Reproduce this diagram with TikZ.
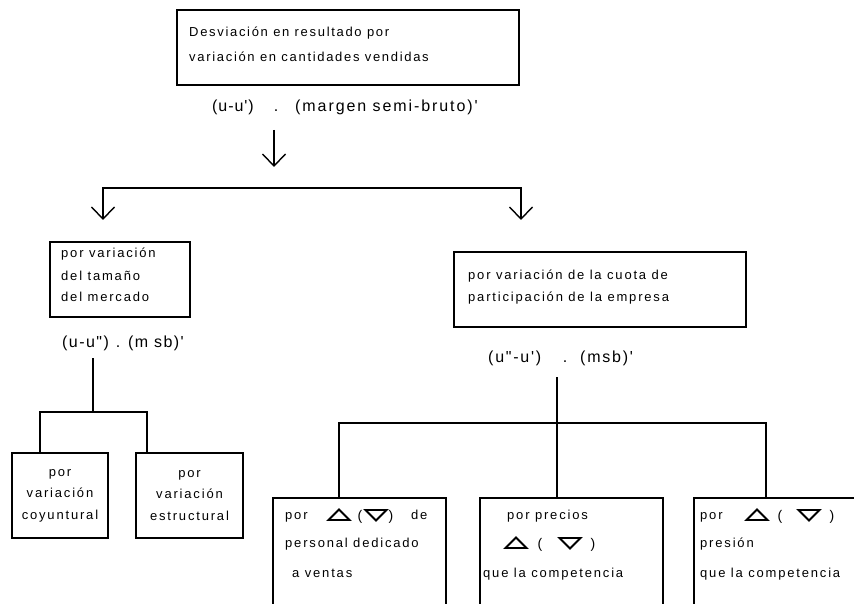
\documentclass[tikz,border=0pt]{standalone}
\usepackage{fontspec}
\usetikzlibrary{arrows.meta}
\newfontfamily\bxfont{Liberation Sans}[LetterSpace=14]
\newfontfamily\topfont{Liberation Sans}[LetterSpace=13]
\newfontfamily\fmA{Liberation Sans}[LetterSpace=6]
\newfontfamily\fmB{Liberation Sans}[LetterSpace=12]
\newfontfamily\fmC{Liberation Sans}[LetterSpace=9]
\newfontfamily\fmD{Liberation Sans}[LetterSpace=11]
\tikzset{
  box/.style={draw, line width=1.4pt, inner sep=0pt},
  conn/.style={line width=1.4pt},
  arr/.style={-{Straight Barb[length=12pt,width=23pt]}},
  arrboth/.style={{Straight Barb[length=12pt,width=23pt]}-{Straight Barb[length=12pt,width=23pt]}},
  lbl/.style={anchor=base west, inner sep=0pt, font=\bxfont\fontsize{13}{15}\selectfont},
  toplbl/.style={anchor=base west, inner sep=0pt, font=\topfont\fontsize{13}{15}\selectfont},
  clbl/.style={anchor=base, inner sep=0pt, font=\bxfont\fontsize{14}{16}\selectfont},
  fml/.style={anchor=base west, inner sep=0pt},
  sbox/.style={box, align=center, font=\bxfont\fontsize{13}{21.5}\selectfont, minimum height=85pt},
  tup/.pic={\draw[line width=1.9pt, line join=miter] (-10.5,5) -- (10.5,5) -- (0,-5.5) -- cycle;},
  tdown/.pic={\draw[line width=1.9pt, line join=miter] (-10.5,-5) -- (10.5,-5) -- (0,5.5) -- cycle;}
}
\begin{document}
\begin{tikzpicture}[x=1pt,y=-1pt]
\useasboundingbox (0,0) rectangle (854,604);
\clip (0,0) rectangle (854,604);

% top box
\node[box, minimum width=342pt, minimum height=75pt] (tbox) at (348,47.5) {};
\node[toplbl] (t1) at (189,37) {Desviación en resultado por};
\node[toplbl] (t2) at (189,62) {variación en cantidades vendidas};
\node[fml, font=\fmA\fontsize{16}{18}\selectfont] (f1a) at (212,112) {(u-u')};
\node[fml, anchor=base, font=\fmA\fontsize{16}{18}\selectfont] (f1b) at (276,112) {.};
\node[fml, font=\fmB\fontsize{16}{18}\selectfont] (f1c) at (295,112) {(margen semi-bruto)'};

\coordinate (a1s) at (274,130);
\coordinate (a1e) at (274,167);
\draw[conn, arr] (a1s) -- (a1e);

\coordinate (b1l) at (103,188);
\coordinate (b1r) at (521,188);
\coordinate (d1l) at (103,220);
\coordinate (d1r) at (521,220);
\draw[conn, arrboth] (d1l) -- (b1l) -- (b1r) -- (d1r);

% left branch
\node[box, minimum width=140pt, minimum height=75pt] (lbox) at (120,279.5) {};
\node[lbl] (l1) at (61,258) {por variación};
\node[lbl] (l2) at (61,280) {del tamaño};
\node[lbl] (l3) at (61,301) {del mercado};
\node[fml, font=\fmC\fontsize{16}{18}\selectfont] (f2a) at (62,347) {(u-u")};
\node[fml, anchor=base, font=\fmC\fontsize{16}{18}\selectfont] (f2b) at (118,347) {.};
\node[fml, font=\fmC\fontsize{16}{18}\selectfont] (f2c) at (128,347) {(m sb)'};

\coordinate (v2) at (93,358);
\coordinate (c2l) at (40,412);
\coordinate (c2r) at (147,412);
\node[sbox, minimum width=96pt] (sb1) at (60,495.5) {por\\variación\\coyuntural};
\node[sbox, minimum width=107pt] (sb2) at (189.5,495.5) {por\\variación\\estructural};
\draw[conn] (v2) -- (v2 |- c2l);
\draw[conn] (c2l |- sb1.north) -- (c2l) -- (c2r) -- (c2r |- sb2.north);

% right branch
\node[box, minimum width=292pt, minimum height=75pt] (rbox) at (600,289.5) {};
\node[lbl] (r1) at (468,279) {por variación de la cuota de};
\node[lbl] (r2) at (468,301) {participación de la empresa};
\node[fml, font=\fmD\fontsize{16}{18}\selectfont] (f3a) at (488,362) {(u"-u')};
\node[fml, anchor=base, font=\fmD\fontsize{16}{18}\selectfont] (f3b) at (565,362) {.};
\node[fml, font=\fmD\fontsize{16}{18}\selectfont] (f3c) at (580,362) {(msb)'};

\coordinate (v3) at (557,377);
\coordinate (c3l) at (339,423);
\coordinate (c3r) at (766,423);
\node[box, minimum width=173pt, minimum height=124pt] (bb1) at (359.5,560) {};
\node[box, minimum width=183pt, minimum height=124pt] (bb2) at (571.5,560) {};
\node[box, minimum width=186pt, minimum height=124pt] (bb3) at (787,560) {};
\draw[conn] (v3) -- (v3 |- bb2.north);
\draw[conn] (c3l |- bb1.north) -- (c3l) -- (c3r) -- (c3r |- bb3.north);

% bottom box 1
\node[lbl] (p1a) at (285,519) {por};
\pic at (339,515) {tup};
\node[clbl] (p1b) at (360,520) {(};
\pic at (376,515) {tdown};
\node[clbl] (p1c) at (391,520) {)};
\node[lbl] (p1d) at (411,519) {de};
\node[lbl] (p1e) at (285,547) {personal dedicado};
\node[lbl] (p1f) at (292,577) {a ventas};

% bottom box 2
\node[lbl] (p2a) at (507,519) {por precios};
\pic at (516,543) {tup};
\node[clbl] (p2b) at (540,548) {(};
\pic at (570,543) {tdown};
\node[clbl] (p2c) at (593,548) {)};
\node[lbl] (p2d) at (483,577) {que la competencia};

% bottom box 3
\node[lbl] (p3a) at (700,519) {por};
\pic at (757,515) {tup};
\node[clbl] (p3b) at (780,520) {(};
\pic at (809,515) {tdown};
\node[clbl] (p3c) at (832,520) {)};
\node[lbl] (p3d) at (700,547) {presión};
\node[lbl] (p3e) at (700,577) {que la competencia};
\end{tikzpicture}
\end{document}
